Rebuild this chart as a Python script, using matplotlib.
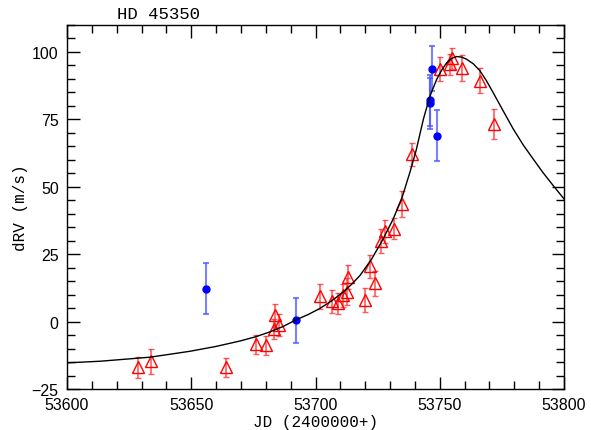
import numpy as np
import matplotlib
matplotlib.use('Agg')
import matplotlib.pyplot as plt
from matplotlib.ticker import MultipleLocator

# red triangles (JD - 2400000, dRV, error)
jd_red = [53628.7, 53633.7, 53663.9, 53675.9, 53679.9, 53683.4, 53683.7, 53685.4,
          53701.8, 53706.8, 53708.9, 53710.9, 53712.5, 53713.2, 53720.0, 53721.9,
          53723.9, 53726.2, 53728.0, 53731.7, 53734.7, 53738.7, 53750.1, 53754.1,
          53754.8, 53758.8, 53766.2, 53772.0]
rv_red = [-17.0, -14.7, -17.0, -8.4, -8.8, -2.6, 2.3, -1.3,
          9.4, 7.6, 6.8, 9.7, 11.0, 16.5, 8.0, 20.5,
          14.2, 29.8, 33.5, 34.5, 43.5, 62.1, 93.8, 95.4,
          97.6, 94.1, 89.4, 73.3]
err_red = [3.9, 4.7, 3.5, 3.6, 3.5, 3.7, 4.4, 4.0,
           4.6, 4.3, 3.8, 4.3, 5.0, 4.5, 4.4, 4.3,
           4.7, 4.5, 4.3, 4.0, 4.8, 4.3, 4.5, 4.0,
           4.0, 4.8, 4.7, 5.7]

# blue circles
jd_blue = [53655.8, 53692.0, 53745.9, 53746.1, 53746.9, 53748.9]
rv_blue = [12.2, 0.5, 81.0, 82.1, 93.8, 68.9]
err_blue = [9.5, 8.4, 9.5, 9.5, 8.4, 9.4]

# orbit fit curve
jd_fit = [53600.0, 53613.3, 53633.4, 53649.5, 53660.0, 53669.6, 53676.0, 53681.7,
          53687.0, 53692.0, 53697.0, 53701.8, 53706.5, 53711.2, 53714.5, 53717.9,
          53722.6, 53727.0, 53731.3, 53735.0, 53738.0, 53740.5, 53743.4, 53746.0,
          53748.8, 53750.8, 53752.8, 53754.8, 53756.8, 53758.8, 53760.8, 53763.5,
          53766.2, 53768.8, 53771.5, 53775.5, 53779.6, 53783.6, 53787.6, 53791.6,
          53795.7, 53800.0]
rv_fit = [-15.3, -14.7, -13.2, -11.0, -9.2, -7.2, -5.6, -3.8,
          -1.8, 0.6, 2.6, 4.9, 7.7, 11.0, 13.8, 17.1,
          23.2, 30.3, 38.1, 46.5, 55.4, 63.5, 75.0, 83.5,
          89.9, 93.3, 96.0, 97.6, 98.3, 98.1, 97.3, 95.6,
          93.0, 89.3, 84.9, 78.2, 71.4, 65.5, 60.3, 55.2,
          50.4, 45.5]

plt.rcParams['font.family'] = ['Liberation Sans', 'DejaVu Sans']

fig = plt.figure(figsize=(5.91, 4.31), dpi=100)
ax = fig.add_axes([0.1134, 0.0951, 0.8409, 0.8446])

ax.plot(jd_fit, rv_fit, color='black', linewidth=1.0, zorder=3)

ax.errorbar(jd_red, rv_red, yerr=err_red, fmt='^', markersize=8,
            markerfacecolor='none', markeredgecolor='red', markeredgewidth=1.0,
            ecolor=(1.0, 0.15, 0.15, 0.75), elinewidth=1.2, capsize=2.5, capthick=1.2,
            zorder=2)
ax.errorbar(jd_blue, rv_blue, yerr=err_blue, fmt='o', markersize=5,
            color='blue', ecolor=(0.3, 0.35, 1.0, 0.75), elinewidth=1.5,
            capsize=2.5, capthick=1.5, zorder=2)

ax.set_xlim(53600, 53800)
ax.set_ylim(-25, 110)
ax.xaxis.set_major_locator(MultipleLocator(50))
ax.xaxis.set_minor_locator(MultipleLocator(10))
ax.yaxis.set_major_locator(MultipleLocator(25))
ax.yaxis.set_minor_locator(MultipleLocator(5))
ax.tick_params(which='both', direction='in', top=True, right=True, labelsize=11.5, pad=6)
ax.tick_params(which='major', length=9, width=1.0)
ax.tick_params(which='minor', length=6, width=1.0)
for s in ax.spines.values():
    s.set_linewidth(1.0)

ax.set_xlabel('JD (2400000+)', family=['Liberation Mono', 'DejaVu Sans Mono'],
              fontsize=11.5, labelpad=1)
ax.set_ylabel('dRV (m/s)', family=['Liberation Mono', 'DejaVu Sans Mono'],
              fontsize=11.5, labelpad=3)
ax.set_title('HD 45350', family=['Liberation Mono', 'DejaVu Sans Mono'],
             fontsize=12.5, loc='left', x=0.1, pad=5)

fig.savefig('out.png', dpi=100)
